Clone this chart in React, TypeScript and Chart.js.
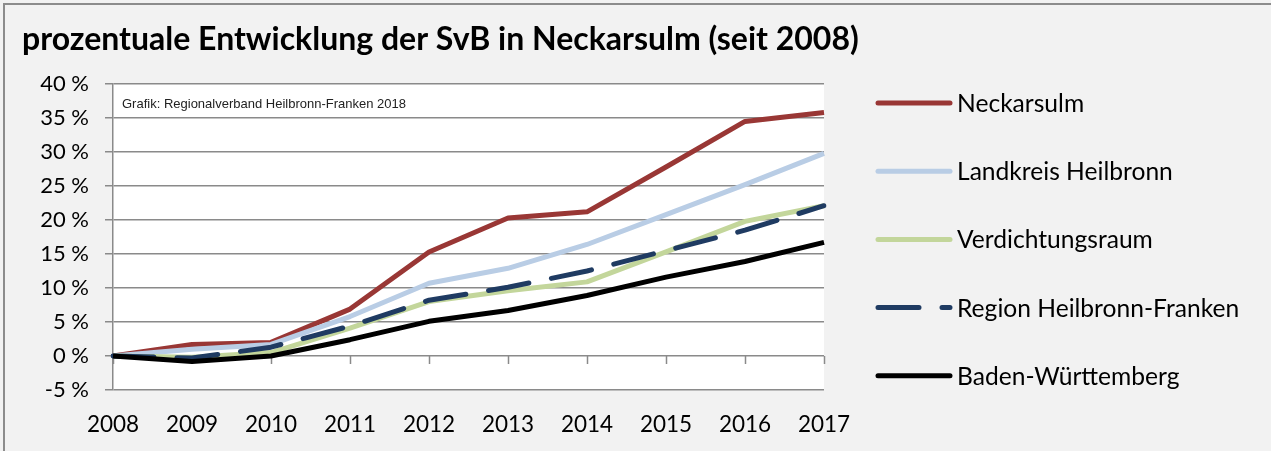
import React, { useEffect, useRef } from "react";
import { Chart, registerables } from "chart.js";

Chart.register(...registerables);

const years = ["2008", "2009", "2010", "2011", "2012", "2013", "2014", "2015", "2016", "2017"];
const neckarsulm = [0, 1.7, 2.0, 6.9, 15.3, 20.3, 21.2, 27.8, 34.5, 35.8];
const landkreisHeilbronn = [0, 1.0, 1.7, 5.8, 10.7, 12.9, 16.4, 20.8, 25.2, 29.8];
const verdichtungsraum = [0, -0.2, 0.5, 4.1, 8.0, 9.6, 10.9, 15.3, 19.8, 22.1];
const regionHeilbronnFranken = [0, -0.3, 1.3, 4.4, 8.2, 10.1, 12.5, 15.5, 18.5, 22.1];
const badenWuerttemberg = [0, -0.8, 0.0, 2.4, 5.1, 6.7, 8.9, 11.6, 13.9, 16.7];

const seriesNames = [
  "Neckarsulm",
  "Landkreis Heilbronn",
  "Verdichtungsraum",
  "Region Heilbronn-Franken",
  "Baden-Württemberg",
];
const seriesColors = ["#993735", "#b9cde5", "#c3d69b", "#1f3b62", "#000000"];
const seriesDash: number[][] = [[], [], [], [41, 23], []];

const titleText = "prozentuale Entwicklung der SvB in Neckarsulm (seit 2008)";
const sourceText = "Grafik: Regionalverband Heilbronn-Franken 2018";
const yMin = -5;
const yMax = 40;
const yStep = 5;

const FONT = "Lato, 'Open Sans', sans-serif";
const GRID = "#8a8a8a";

const decorPlugin = {
  id: "decor",
  beforeDraw(chart: any) {
    const { ctx, chartArea, width, height } = chart;
    ctx.save();
    ctx.fillStyle = "#f2f2f2";
    ctx.fillRect(0, 0, width, height);
    ctx.fillStyle = "#ffffff";
    ctx.fillRect(chartArea.left, chartArea.top, chartArea.right - chartArea.left, chartArea.bottom - chartArea.top);
    ctx.strokeStyle = "#8c8c8c";
    ctx.lineWidth = 2;
    ctx.beginPath();
    ctx.moveTo(4, height);
    ctx.lineTo(4, 4);
    ctx.lineTo(width, 4);
    ctx.stroke();
    ctx.restore();
  },
  beforeDatasetsDraw(chart: any) {
    const { ctx } = chart;
    const xs = chart.scales.x;
    const ys = chart.scales.y;
    const y0 = ys.getPixelForValue(0);
    ctx.save();
    ctx.strokeStyle = GRID;
    ctx.lineWidth = 1.5;
    ctx.beginPath();
    for (let i = 0; i < years.length; i++) {
      const px = Math.round(xs.getPixelForValue(i)) + 0.5;
      ctx.moveTo(px, y0);
      ctx.lineTo(px, y0 + 8);
    }
    ctx.stroke();
    ctx.restore();
  },
  afterDraw(chart: any) {
    const { ctx, chartArea } = chart;
    ctx.save();
    // title
    ctx.fillStyle = "#000";
    ctx.font = `bold 32px ${FONT}`;
    ctx.textAlign = "left";
    ctx.textBaseline = "alphabetic";
    ctx.fillText(titleText, 22, 50);
    // source note
    ctx.font = "13px 'Liberation Sans', Arial, sans-serif";
    ctx.fillStyle = "#222";
    ctx.textBaseline = "middle";
    ctx.fillText(sourceText, chartArea.left + 9, 104);
    // legend
    const lx0 = 878;
    const lx1 = 950;
    const ly0 = 103;
    const lstep = 68.2;
    chart.data.datasets.forEach((ds: any, i: number) => {
      const y = ly0 + i * lstep;
      ctx.strokeStyle = ds.borderColor;
      ctx.lineWidth = 5;
      ctx.lineCap = "round";
      ctx.setLineDash(ds.borderDash || []);
      ctx.beginPath();
      ctx.moveTo(lx0, y);
      ctx.lineTo(lx1, y);
      ctx.stroke();
      ctx.setLineDash([]);
      ctx.fillStyle = "#000";
      ctx.font = `24.6px ${FONT}`;
      ctx.textBaseline = "middle";
      ctx.fillText(ds.label, 957, y + 1);
    });
    ctx.restore();
  },
};

export default function App() {
  const ref = useRef<HTMLCanvasElement | null>(null);

  useEffect(() => {
    if (!ref.current) return;
    const values = [neckarsulm, landkreisHeilbronn, verdichtungsraum, regionHeilbronnFranken, badenWuerttemberg];
    const chart = new Chart(ref.current, {
      type: "line",
      data: {
        labels: years,
        datasets: values.map((data, i) => ({
          label: seriesNames[i],
          data,
          borderColor: seriesColors[i],
          backgroundColor: seriesColors[i],
          borderWidth: 5,
          borderDash: seriesDash[i],
          borderCapStyle: seriesDash[i].length ? "round" : "butt",
          borderJoinStyle: "round",
          pointRadius: 0,
          pointHoverRadius: 0,
          tension: 0,
          fill: false,
          order: values.length - i,
        })),
      },
      options: {
        animation: false,
        responsive: false,
        maintainAspectRatio: false,
        events: [],
        layout: { padding: { left: 0, top: 84, right: 447, bottom: 0 } },
        plugins: {
          legend: { display: false },
          title: { display: false },
          tooltip: { enabled: false },
        },
        scales: {
          x: {
            type: "category",
            offset: false,
            grid: { display: false, drawTicks: false },
            border: { display: false },
            ticks: {
              color: "#000",
              font: { family: FONT, size: 22.5 },
              padding: 21,
              maxRotation: 0,
              autoSkip: false,
            },
            afterFit(scale: any) {
              scale.height = 61;
            },
          },
          y: {
            min: yMin,
            max: yMax,
            grid: { color: GRID, lineWidth: 1.5, tickLength: 8 },
            border: { display: true, color: GRID, width: 1.5 },
            ticks: {
              stepSize: yStep,
              color: "#000",
              font: { family: FONT, size: 22 },
              padding: 16,
              callback: (v: any) => `${v} %`,
            },
            afterFit(scale: any) {
              scale.width = 113;
            },
          },
        },
      },
      plugins: [decorPlugin],
    } as any);
    return () => chart.destroy();
  }, []);

  return (
    <div style={{ position: "fixed", left: 0, top: 0, width: 1271, height: 451 }}>
      <canvas ref={ref} width={1271} height={451} style={{ width: 1271, height: 451, display: "block" }} />
    </div>
  );
}
